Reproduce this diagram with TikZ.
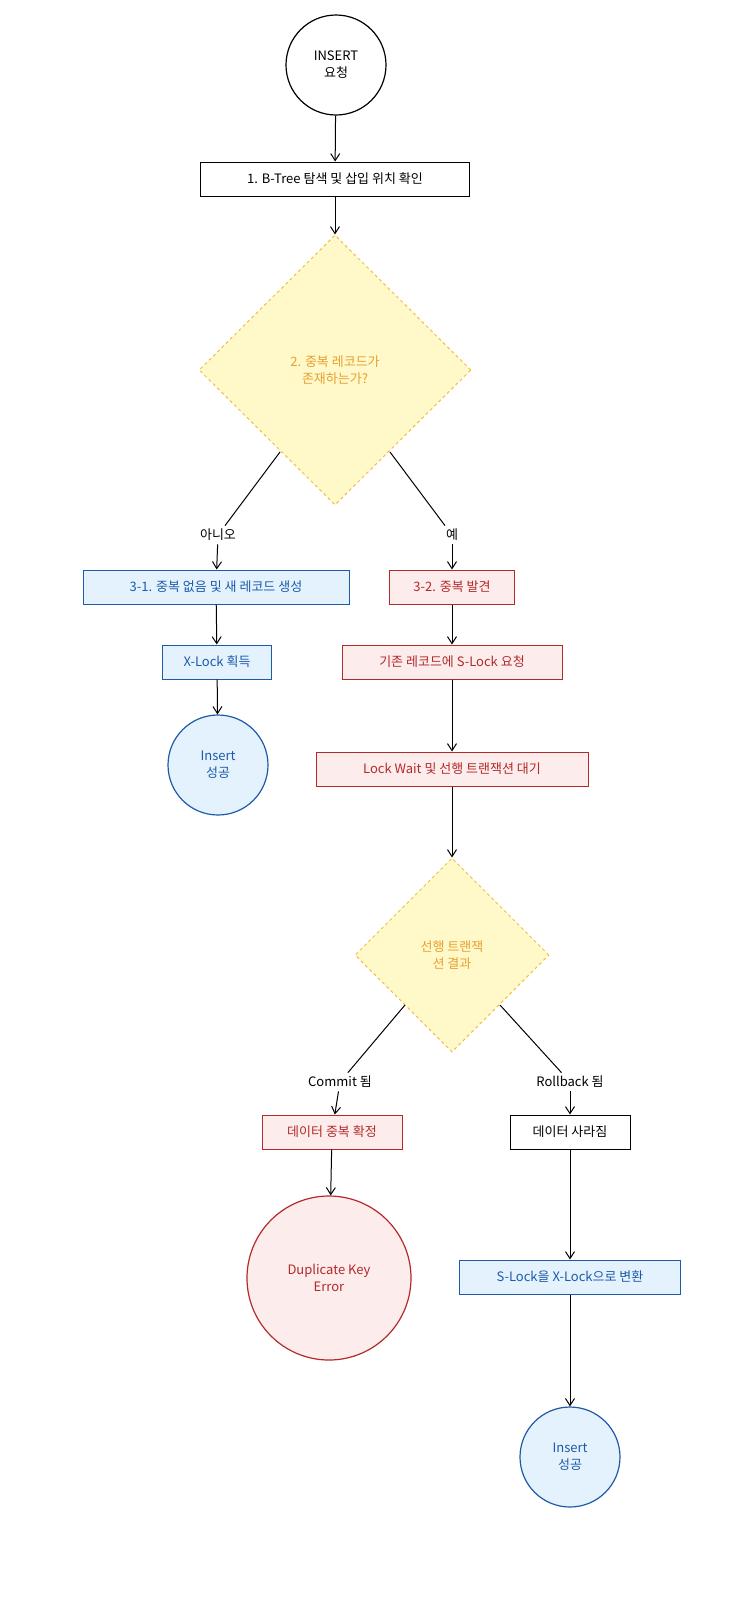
\documentclass[tikz,border=0pt]{standalone}
\usepackage{fontspec}
\setmainfont{Noto Sans CJK KR}
\usetikzlibrary{arrows.meta,shapes.geometric}
\definecolor{bfill}{HTML}{E3F2FD}\definecolor{bdraw}{HTML}{1E5AA8}
\definecolor{rfill}{HTML}{FDECEC}\definecolor{rdraw}{HTML}{B22A2A}
\definecolor{yfill}{HTML}{FFF8C8}\definecolor{ydraw}{HTML}{F0C040}\definecolor{ytext}{HTML}{E8A030}
\begin{document}
\begin{tikzpicture}[x=1pt,y=-1pt,
  every node/.style={font=\fontsize{13}{17}\selectfont,align=center},
  box/.style={draw,line width=1pt,minimum height=34pt,inner xsep=6pt},
  bbox/.style={box,fill=bfill,draw=bdraw,text=bdraw},
  rbox/.style={box,fill=rfill,draw=rdraw,text=rdraw},
  dia/.style={diamond,draw=ydraw,fill=yfill,dashed,line width=1pt,text=ytext,inner sep=0pt},
  circ/.style={circle,draw,line width=1.2pt,inner sep=0pt},
  arr/.style={-{Straight Barb[length=7pt,width=9pt]},line width=1pt},
  ln/.style={line width=1pt}]
\useasboundingbox (0,0) rectangle (750,1620);
\node[circ,minimum size=100pt] (s) at (336,65) {INSERT\\요청};
\node[box,minimum width=269pt] (b1) at (335,179) {1. B-Tree 탐색 및 삽입 위치 확인};
\node[dia,minimum width=272pt,minimum height=270pt] (d1) at (335,370) {2. 중복 레코드가\\존재하는가?};
\node (no) at (218,535) {아니오};
\node (yes) at (452,535) {예};
\node[bbox,minimum width=266pt] (b31) at (216,587) {3-1. 중복 없음 및 새 레코드 생성};
\node[bbox,minimum width=109pt] (xl) at (217,662) {X-Lock 획득};
\node[circ,draw=bdraw,fill=bfill,text=bdraw,minimum size=100pt] (ok1) at (218,765) {Insert\\성공};
\node[rbox,minimum width=125pt] (b32) at (452,587) {3-2. 중복 발견};
\node[rbox,minimum width=220pt] (sl) at (452,662) {기존 레코드에 S-Lock 요청};
\node[rbox,minimum width=272pt] (lw) at (452,769) {Lock Wait 및 선행 트랜잭션 대기};
\node[dia,minimum width=194pt,minimum height=194pt] (d2) at (452,955) {선행 트랜잭\\션 결과};
\node (cm) at (340,1082) {Commit 됨};
\node (rb) at (570,1082) {Rollback 됨};
\node[rbox,minimum width=140pt] (dup) at (332,1132) {데이터 중복 확정};
\node[circ,draw=rdraw,fill=rfill,text=rdraw,minimum size=164pt] (err) at (329,1278) {Duplicate Key\\Error};
\node[box,minimum width=120pt] (gone) at (570,1132) {데이터 사라짐};
\node[bbox,minimum width=221pt] (cv) at (570,1277) {S-Lock을 X-Lock으로 변환};
\node[circ,draw=bdraw,fill=bfill,text=bdraw,minimum size=100pt] (ok2) at (570,1457) {Insert\\성공};
\draw[arr] (s) -- (b1);
\draw[arr] (b1) -- (d1);
\draw[ln] (280,452) -- (no);
\draw[ln] (390,452) -- (yes);
\draw[arr] (no) -- (b31);
\draw[arr] (yes) -- (b32);
\draw[arr] (b31) -- (xl);
\draw[arr] (xl) -- (ok1);
\draw[arr] (b32) -- (sl);
\draw[arr] (sl) -- (lw);
\draw[arr] (lw) -- (d2);
\draw[ln] (405,1005) -- (cm);
\draw[ln] (500,1005) -- (rb);
\draw[arr] (cm) -- (dup);
\draw[arr] (rb) -- (gone);
\draw[arr] (dup) -- (err);
\draw[arr] (gone) -- (cv);
\draw[arr] (cv) -- (ok2);
\end{tikzpicture}
\end{document}
